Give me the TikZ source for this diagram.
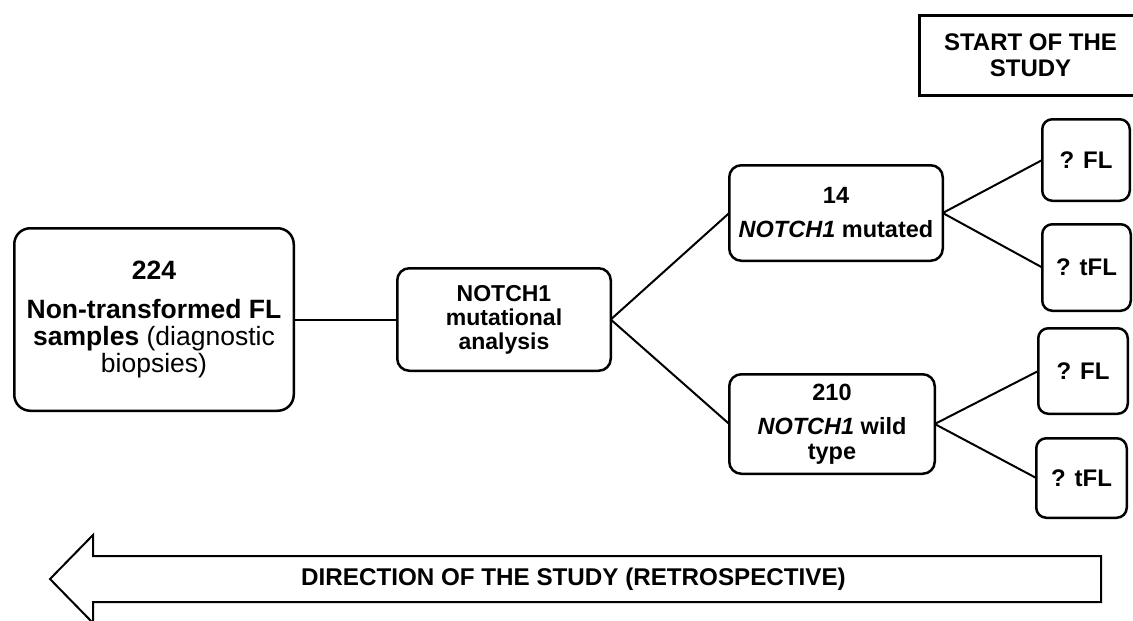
\documentclass[tikz,border=0pt]{standalone}
\usepackage{fontspec}
\setmainfont{Liberation Sans}
\usetikzlibrary{positioning}
\tikzstyle{bigbox} = [rectangle, rounded corners=16pt, draw=black, line width=2.5pt, outer sep=0pt, align=center, minimum width=279.5pt, minimum height=182.5pt, font=\fontsize{26.5}{27}\selectfont]
\tikzstyle{process} = [rectangle, rounded corners=12pt, draw=black, line width=2.5pt, outer sep=0pt, align=center, font=\fontsize{23.5}{25}\selectfont]
\tikzstyle{result} = [rectangle, rounded corners=10pt, draw=black, line width=2.5pt, outer sep=0pt, align=center, minimum width=88pt, minimum height=84pt, font=\bfseries\fontsize{24}{26}\selectfont]
\tikzstyle{startbox} = [rectangle, draw=black, line width=2.5pt, align=center, minimum width=222pt, minimum height=80pt, font=\bfseries\fontsize{24}{26}\selectfont]
\tikzstyle{line} = [line width=2pt]

\begin{document}
\begin{tikzpicture}[x=1pt, y=-1pt, node distance=100pt]
            \useasboundingbox (0,0) rectangle (1133,621);
            \node (start) [startbox, anchor=north west] at (918.25,14.25) {START OF THE\\STUDY};
            \node (samples) [bigbox] at (154,319.5) {\textbf{224}\\[12pt]\textbf{Non-transformed FL}\\\textbf{samples} (diagnostic\\biopsies)};
            \node (notch) [process, right=103.5pt of samples, minimum width=213.5pt, minimum height=102.5pt, font=\bfseries\fontsize{23}{24}\selectfont] {NOTCH1\\mutational\\analysis};
            \node (mut) [process, right=118.5pt of notch, yshift=106.5pt, minimum width=213.5pt, minimum height=95.5pt] {\textbf{14}\\[9pt]\textbf{\textit{NOTCH1} mutated}};
            \node (wild) [process, right=118.5pt of notch, yshift=-104.5pt, minimum width=205.5pt, minimum height=99.5pt] {\textbf{210}\\[9pt]\textbf{\textit{NOTCH1} wild}\\\textbf{type}};
            \node (fl1) [result, right=99.5pt of mut, yshift=53pt, minimum width=87.5pt, minimum height=81.5pt] {? FL};
            \node (tfl1) [result, right=99.5pt of mut, yshift=-54.5pt, minimum width=88.5pt, minimum height=86.5pt] {? tFL};
            \node (fl2) [result, right=103.5pt of wild, yshift=53pt, minimum width=89.5pt, minimum height=85.5pt] {? FL};
            \node (tfl2) [result, right=101.5pt of wild, yshift=-54pt, minimum width=90.5pt, minimum height=79.5pt] {? tFL};

            \draw [line] (samples) -- (notch);
            \draw [line] (notch.east) -- (mut.west);
            \draw [line] (notch.east) -- (wild.west);
            \draw [line] (mut.east) -- (fl1.west);
            \draw [line] (mut.east) -- (tfl1.west);
            \draw [line] (wild.east) -- (fl2.west);
            \draw [line] (wild.east) -- (tfl2.west);

            % retrospective direction
            \draw [line, line join=miter] (50,579) -- (93,535) -- (93,556) -- (1101,556) -- (1101,602) -- (93,602) -- (93,623) -- cycle;
            \node (direction) [font=\bfseries\fontsize{24.2}{26}\selectfont] at (573.5,579) {DIRECTION OF THE STUDY (RETROSPECTIVE)};
        \end{tikzpicture}
\end{document}
